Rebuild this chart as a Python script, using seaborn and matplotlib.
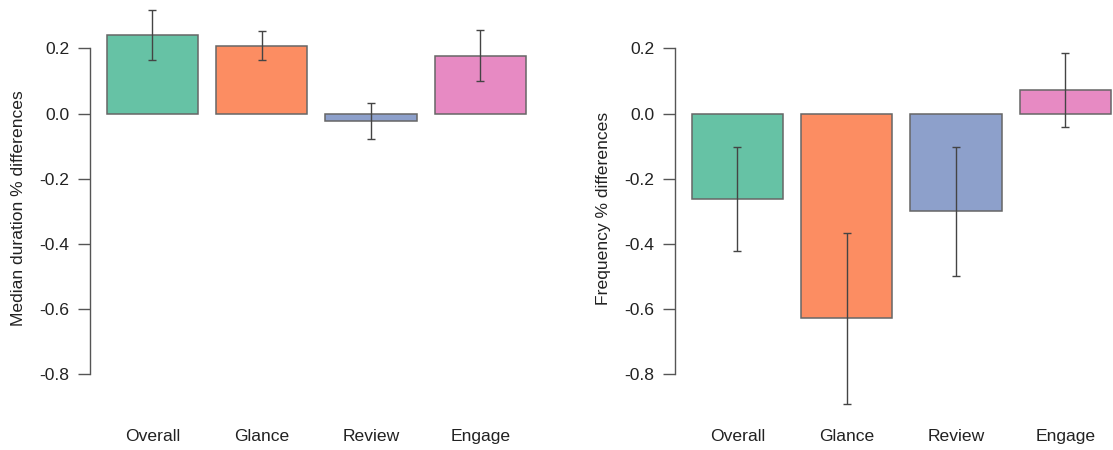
import numpy as np
import pandas as pd
import matplotlib
matplotlib.use("Agg")
import matplotlib.pyplot as plt
import seaborn as sns

# values
categories = ["Overall", "Glance", "Review", "Engage"]
duration = [0.241, 0.209, -0.022, 0.178]
duration_lo = [0.165, 0.165, -0.079, 0.099]
duration_hi = [0.317, 0.253, 0.033, 0.258]
frequency = [-0.262, -0.628, -0.300, 0.073]
frequency_lo = [-0.420, -0.890, -0.497, -0.040]
frequency_hi = [-0.101, -0.367, -0.103, 0.185]
yticks = [-0.8, -0.6, -0.4, -0.2, 0.0, 0.2]

set2 = ["#66C2A5", "#FC8D62", "#8DA0CB", "#E78AC3"]

sns.set_style("white")
plt.rcParams['font.family'] = ['Liberation Sans', 'DejaVu Sans']
plt.rcParams['font.size'] = 12.6

fig = plt.figure(figsize=(11.13, 4.5), dpi=100)
ax1 = fig.add_axes([0.0809, 0.06, 0.4067, 0.9547])
ax2 = fig.add_axes([0.6065, 0.06, 0.4067, 0.9547])


def bar_panel(ax, vals, lo, hi, ylabel):
    df = pd.DataFrame({"cat": categories, "val": vals, "lo": lo, "hi": hi})
    sns.barplot(data=df, x="cat", y="val", hue="cat", palette=set2,
                saturation=1, width=1 / 1.2, edgecolor="#666666",
                linewidth=1.1, legend=False, ax=ax)
    centers = [p.get_x() + p.get_width() / 2 for p in ax.patches]
    yerr = [df["val"] - df["lo"], df["hi"] - df["val"]]
    ax.errorbar(centers, df["val"], yerr=yerr, fmt="none", ecolor="#444444",
                elinewidth=1.0, capsize=2.9, capthick=1.0)
    ax.set_xlim(-0.57, 3.57)
    ax.set_ylim(-0.949, 0.369)
    ax.set_yticks(yticks)
    ax.set_yticklabels([f"{t:.1f}" for t in yticks])
    sns.despine(ax=ax, bottom=True)
    ax.spines["left"].set_bounds(-0.8, 0.2)
    ax.spines["left"].set_color("#555555")
    ax.spines["left"].set_linewidth(1.0)
    ax.tick_params(axis="y", left=True, length=8.9, width=1.0,
                   color="#555555", pad=6, labelsize=12.6,
                   labelcolor="#222222")
    ax.tick_params(axis="x", bottom=False, length=0, pad=4.5,
                   labelsize=12.6, labelcolor="#222222")
    ax.set_xlabel("")
    ax.set_ylabel(ylabel, fontsize=12.6, color="#222222")
    ax.yaxis.set_label_coords(-0.141, 0.5)
    ax.patch.set_alpha(0)


bar_panel(ax1, duration, duration_lo, duration_hi, "Median duration % differences")
bar_panel(ax2, frequency, frequency_lo, frequency_hi, "Frequency % differences")

fig.savefig("out.png", dpi=100)
